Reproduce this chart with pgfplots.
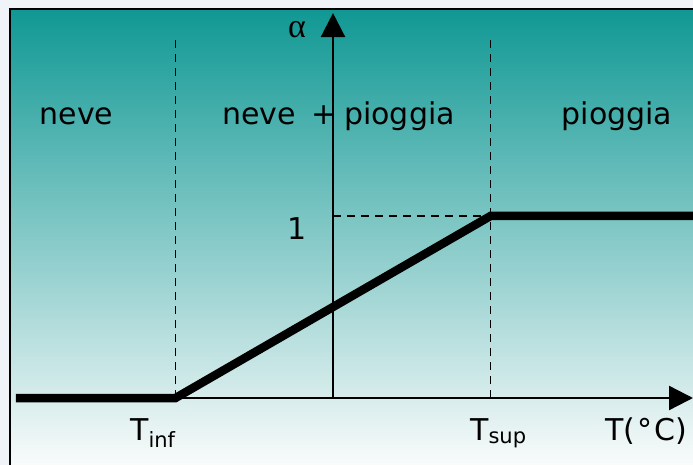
\documentclass[border=0pt]{standalone}
\usepackage{pgfplots}
\pgfplotsset{compat=1.18}
\usepackage{fontspec}
\setmainfont{DejaVu Sans}
\newfontfamily\greekserif{Liberation Serif}
\usetikzlibrary{arrows.meta}
\definecolor{bgout}{RGB}{240,244,249}
\definecolor{ctop}{RGB}{16,152,148}
\definecolor{cmid}{RGB}{158,199,198}
\definecolor{cbot}{RGB}{250,251,251}
\begin{document}
\begin{tikzpicture}
\begin{axis}[
  width=693pt, height=465pt, scale only axis,
  xmin=-2.1143, xmax=2.2857, ymin=-0.3681, ymax=2.1868,
  axis lines=none, clip=false,
]
% background
\fill[bgout] (axis cs:-2.1143,-0.3681) rectangle (axis cs:2.2857,2.1868);
\shade[top color=ctop, middle color=cmid, bottom color=cbot]
  (axis cs:-2.0508,-0.3681) rectangle (axis cs:2.2857,2.1374);
\draw[black, line width=2.4pt] (axis cs:-2.0508,-0.3681) -- (axis cs:-2.0508,2.1374) -- (axis cs:2.2857,2.1374);
% dashed guides
\draw[black, line width=1.9pt, dash pattern=on 8pt off 6pt] (axis cs:-1,0) -- (axis cs:-1,1.995);
\draw[black, line width=1.9pt, dash pattern=on 8pt off 6pt] (axis cs:1,0) -- (axis cs:1,1.995);
\draw[black, line width=1.9pt, dash pattern=on 8pt off 6pt] (axis cs:0,1) -- (axis cs:1,1);
% axes
\draw[black, line width=2.4pt, -{Triangle[length=24pt,width=24pt]}] (axis cs:-1.2,0) -- (axis cs:2.2857,0);
\draw[black, line width=2.4pt, -{Triangle[length=24pt,width=24pt]}] (axis cs:0,0) -- (axis cs:0,2.115);
% data
\addplot[black, line width=8.5pt, line join=miter] coordinates {(-2.013,0) (-1,0) (1,1) (2.2857,1)};
% labels
\node[anchor=base, font=\fontsize{30}{36}\selectfont] at (axis cs:-1.629,1.505) {neve};
\node[anchor=base west, inner sep=0pt, font=\fontsize{30}{36}\selectfont] at (axis cs:-0.705,1.505) {neve};
\node[anchor=base west, inner sep=0pt, font=\fontsize{30}{36}\selectfont] at (axis cs:-0.14,1.505) {+};
\node[anchor=base west, inner sep=0pt, font=\fontsize{30}{36}\selectfont] at (axis cs:0.07,1.505) {pioggia};
\node[anchor=base, font=\fontsize{30}{36}\selectfont] at (axis cs:1.803,1.505) {pioggia};
\node[anchor=center, font=\fontsize{30}{36}\selectfont] at (axis cs:-0.229,0.929) {1};
\node[anchor=center, font=\greekserif\fontsize{34}{40}\selectfont] at (axis cs:-0.229,2.022) {α};
\node[anchor=base west, inner sep=0pt, font=\fontsize{30}{36}\selectfont] at (axis cs:-1.289,-0.231) {T\textsubscript{inf}};
\node[anchor=base west, inner sep=0pt, font=\fontsize{30}{36}\selectfont] at (axis cs:0.870,-0.231) {T\textsubscript{sup}};
\node[anchor=base west, inner sep=0pt, font=\fontsize{30}{36}\selectfont] at (axis cs:1.727,-0.231) {T(\hspace{2pt}°\hspace{2pt}C)};
\end{axis}
\pgfresetboundingbox
\useasboundingbox (current axis.south west) rectangle (current axis.north east);
\end{tikzpicture}
\end{document}
